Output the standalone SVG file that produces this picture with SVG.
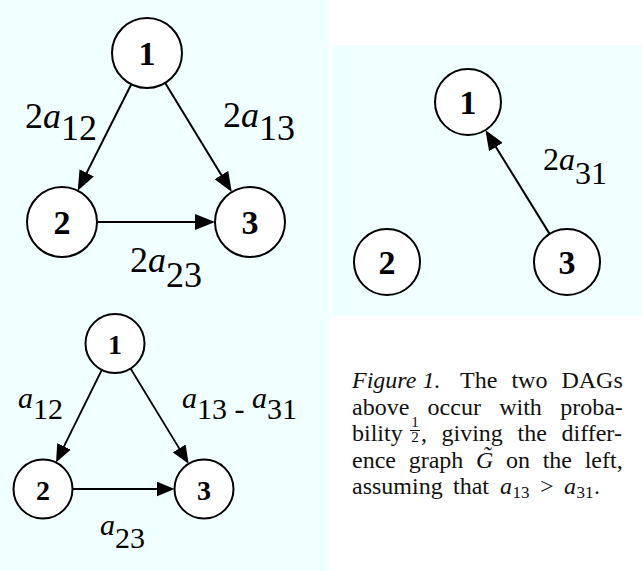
<svg xmlns="http://www.w3.org/2000/svg" width="642" height="571" viewBox="0 0 642 571">
<style>
.bg{fill:#f0ffff}
.node{fill:#fff;stroke:#000;stroke-width:2}
.nl{font-family:"Liberation Serif","Times New Roman",serif;font-weight:bold;font-size:34px;text-anchor:middle;fill:#000}
.nls{font-size:28px}
.edge{stroke:#000;stroke-width:2;fill:none}
.edges{stroke-width:1.8}
.el{font-family:"Liberation Serif","Times New Roman",serif;font-size:36px;fill:#000}
.it{font-style:italic}
.cap{font-family:"Liberation Serif","Times New Roman",serif;font-size:24px;fill:#111}
.fr{font-size:15px;text-anchor:middle}
.sub{font-size:17px}
</style>
<defs>
<marker id="ah" markerUnits="userSpaceOnUse" markerWidth="20" markerHeight="16" viewBox="0 0 20 16" refX="16" refY="8" orient="auto"><path d="M0,0 L20,8 L0,16 z" fill="#000"/></marker>
<marker id="ahs" markerUnits="userSpaceOnUse" markerWidth="18" markerHeight="15" viewBox="0 0 18 15" refX="14" refY="7.5" orient="auto"><path d="M0,0 L18,7.5 L0,15 z" fill="#000"/></marker>
</defs>
<rect class="bg" x="0" y="0" width="329" height="571"/>
<rect class="bg" x="332" y="45" width="310" height="271"/>

<g id="connectors">
<line class="edge" x1="131.3" y1="84.3" x2="79.5" y2="187.1" marker-end="url(#ah)"/>
<line class="edge" x1="165.2" y1="82.9" x2="229.7" y2="188.7" marker-end="url(#ah)"/>
<line class="edge" x1="97" y1="222" x2="211" y2="222" marker-end="url(#ah)"/>
<line class="edge" x1="549.6" y1="233.9" x2="487.5" y2="133.5" marker-end="url(#ah)"/>
<line class="edge edges" x1="102" y1="369.5" x2="57.8" y2="458.9" marker-end="url(#ahs)"/>
<line class="edge edges" x1="130.4" y1="368.2" x2="186.5" y2="460.4" marker-end="url(#ahs)"/>
<line class="edge edges" x1="72.5" y1="489" x2="170.5" y2="489" marker-end="url(#ahs)"/>
</g>

<g id="edge-labels">
<text class="el" x="25" y="128">2<tspan class="it">a</tspan><tspan dy="12">12</tspan></text>
<text class="el" x="223" y="127">2<tspan class="it">a</tspan><tspan dy="13">13</tspan></text>
<text class="el" x="130" y="272">2<tspan class="it">a</tspan><tspan dy="15">23</tspan></text>
<text class="el" x="543" y="170" style="font-size:32px">2<tspan class="it">a</tspan><tspan dy="14">31</tspan></text>
<text class="el" x="18" y="408" style="font-size:30px"><tspan class="it">a</tspan><tspan dy="11">12</tspan></text>
<text class="el" x="182" y="408" style="font-size:30px"><tspan class="it">a</tspan><tspan dy="11">13 - </tspan><tspan class="it" dy="-11">a</tspan><tspan dy="11">31</tspan></text>
<text class="el" x="100" y="535" style="font-size:30px"><tspan class="it">a</tspan><tspan dy="13">23</tspan></text>
</g>

<g id="A1"><circle class="node" cx="147" cy="53" r="35"/><text class="nl" x="147" y="65">1</text></g>
<g id="A2"><circle class="node" cx="62" cy="222" r="35"/><text class="nl" x="62" y="234">2</text></g>
<g id="A3"><circle class="node" cx="250" cy="222" r="35"/><text class="nl" x="250" y="234">3</text></g>

<g id="B1"><circle class="node" cx="468" cy="102" r="33"/><text class="nl" x="468" y="114">1</text></g>
<g id="B2"><circle class="node" cx="387" cy="262" r="33"/><text class="nl" x="387" y="274">2</text></g>
<g id="B3"><circle class="node" cx="567" cy="262" r="33"/><text class="nl" x="567" y="274">3</text></g>

<g id="C1"><circle class="node" cx="115" cy="343.5" r="29.5"/><text class="nl nls" x="115" y="354">1</text></g>
<g id="C2"><circle class="node" cx="43" cy="489" r="29.5"/><text class="nl nls" x="43" y="499.5">2</text></g>
<g id="C3"><circle class="node" cx="204" cy="489" r="29.5"/><text class="nl nls" x="204" y="499.5">3</text></g>

<g id="caption" class="cap">
<text x="352" y="388" class="it">Figure 1.</text>
<text x="460" y="388">The</text>
<text x="511.4" y="388">two</text>
<text x="561.4" y="388">DAGs</text>

<text x="352" y="414.5">above</text>
<text x="427.6" y="414.5">occur</text>
<text x="499.2" y="414.5">with</text>
<text x="560.2" y="414.5">proba-</text>

<text x="352" y="441">bility</text>
<text class="fr" x="415" y="427">1</text>
<line x1="410" y1="430.5" x2="420" y2="430.5" stroke="#111" stroke-width="1"/>
<text class="fr" x="415" y="441.5">2</text>
<text x="421" y="441">,</text>
<text x="441.5" y="441">giving</text>
<text x="517.5" y="441">the</text>
<text x="561.5" y="441">differ-</text>

<text x="352" y="467.5">ence</text>
<text x="408.7" y="467.5">graph</text>
<text x="476" y="467.5" class="it">G&#x303;</text>
<text x="506" y="467.5">on</text>
<text x="542.7" y="467.5">the</text>
<text x="584.7" y="467.5">left,</text>

<text x="352" y="494">assuming</text>
<text x="453" y="494">that</text>
<text x="500" y="494" class="it">a</text>
<text x="512.5" y="498" class="sub">13</text>
<text x="540" y="494">&gt;</text>
<text x="564" y="494" class="it">a</text>
<text x="576.5" y="498" class="sub">31</text>
<text x="594" y="494">.</text>
</g>
</svg>
